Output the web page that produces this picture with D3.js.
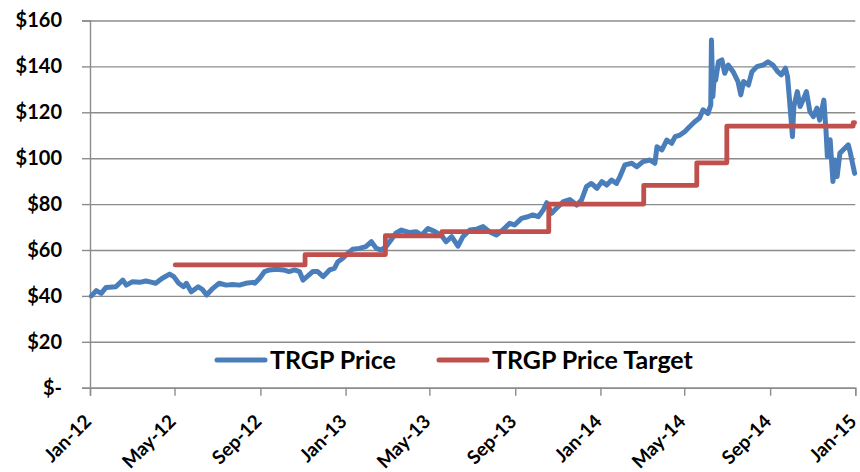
<!DOCTYPE html>
<html>
<head>
<meta charset="utf-8">
<script src="https://cdn.jsdelivr.net/npm/d3@7"></script>
<style>
  html, body { margin: 0; padding: 0; background: #fff; }
  main { width: 860px; height: 472px; }
  svg { display: block; font-family: Lato, "Open Sans", sans-serif; font-weight: bold; }
</style>
</head>
<body>
<main></main>
<script>
const priceDates = [
  "2012-01-03", "2012-01-10", "2012-01-17", "2012-01-24", "2012-02-07", "2012-02-17", "2012-02-22",
  "2012-03-02", "2012-03-12", "2012-03-21", "2012-03-30", "2012-04-04", "2012-04-13", "2012-04-24",
  "2012-04-30", "2012-05-07", "2012-05-14", "2012-05-18", "2012-05-25", "2012-06-04", "2012-06-10",
  "2012-06-16", "2012-06-25", "2012-07-04", "2012-07-14", "2012-07-23", "2012-08-02", "2012-08-11",
  "2012-08-21", "2012-08-24", "2012-08-31", "2012-09-07", "2012-09-14", "2012-09-24", "2012-10-04",
  "2012-10-12", "2012-10-20", "2012-10-27", "2012-11-01", "2012-11-08", "2012-11-15", "2012-11-22",
  "2012-11-30", "2012-12-09", "2012-12-16", "2012-12-21", "2012-12-28", "2013-01-04", "2013-01-11",
  "2013-01-21", "2013-01-30", "2013-02-07", "2013-02-14", "2013-02-21", "2013-02-28", "2013-03-07",
  "2013-03-14", "2013-03-22", "2013-04-03", "2013-04-12", "2013-04-20", "2013-04-29", "2013-05-09",
  "2013-05-18", "2013-05-25", "2013-06-02", "2013-06-11", "2013-06-18", "2013-06-28", "2013-07-07",
  "2013-07-17", "2013-07-26", "2013-08-05", "2013-08-14", "2013-08-24", "2013-08-31", "2013-09-10",
  "2013-09-19", "2013-09-26", "2013-10-04", "2013-10-11", "2013-10-16", "2013-10-23", "2013-10-30",
  "2013-11-09", "2013-11-18", "2013-11-28", "2013-12-05", "2013-12-12", "2013-12-19", "2013-12-27",
  "2014-01-03", "2014-01-10", "2014-01-17", "2014-01-24", "2014-01-29", "2014-02-05", "2014-02-15",
  "2014-02-22", "2014-03-03", "2014-03-13", "2014-03-20", "2014-03-23", "2014-03-30", "2014-04-06",
  "2014-04-13", "2014-04-18", "2014-04-25", "2014-05-02", "2014-05-09", "2014-05-16", "2014-05-23",
  "2014-05-28", "2014-06-04", "2014-06-08", "2014-06-09", "2014-06-11", "2014-06-13", "2014-06-15",
  "2014-06-19", "2014-06-24", "2014-06-28", "2014-07-03", "2014-07-10", "2014-07-17", "2014-07-21",
  "2014-07-25", "2014-08-01", "2014-08-06", "2014-08-13", "2014-08-22", "2014-08-29", "2014-09-05",
  "2014-09-12", "2014-09-17", "2014-09-23", "2014-09-26", "2014-09-29", "2014-10-03", "2014-10-05",
  "2014-10-10", "2014-10-14", "2014-10-18", "2014-10-23", "2014-10-28", "2014-11-02", "2014-11-07",
  "2014-11-11", "2014-11-17", "2014-11-20", "2014-11-22", "2014-11-26", "2014-11-30", "2014-12-03",
  "2014-12-06", "2014-12-10", "2014-12-17", "2014-12-22", "2014-12-25", "2014-12-28", "2014-12-31",
];
const priceValues = [
  40.0, 42.3, 41.1, 43.7, 44.0, 46.9, 44.7,
  46.2, 45.9, 46.5, 45.9, 45.5, 47.6, 49.5,
  48.4, 45.5, 44.0, 45.5, 41.8, 44.0, 42.8,
  40.4, 43.3, 45.5, 44.7, 45.0, 44.7, 45.5,
  45.9, 45.5, 47.7, 50.6, 51.3, 51.6, 51.3,
  50.6, 51.3, 50.6, 46.9, 48.7, 50.6, 50.6,
  48.4, 51.3, 52.0, 54.9, 56.4, 58.5, 60.3,
  60.7, 61.5, 63.6, 60.7, 60.0, 61.5, 64.4,
  67.3, 68.7, 67.6, 68.0, 66.5, 69.4, 68.0,
  66.5, 63.6, 65.8, 61.7, 65.8, 68.7, 69.0,
  70.2, 68.0, 66.5, 68.7, 71.6, 70.9, 73.8,
  74.5, 75.3, 74.5, 77.4, 80.6, 76.0, 78.2,
  81.1, 82.0, 79.6, 81.8, 87.6, 89.0, 86.9,
  89.8, 88.3, 90.5, 89.0, 92.0, 97.1, 97.8,
  96.3, 98.5, 99.2, 97.8, 105.0, 103.6, 107.9,
  106.5, 109.4, 110.1, 111.6, 113.8, 115.9, 117.5,
  121.1, 119.5, 123.2, 151.5, 126.8, 135.5, 134.0,
  142.0, 142.8, 137.0, 140.6, 137.7, 133.4, 127.6,
  133.4, 131.9, 137.7, 139.9, 140.6, 142.0, 140.6,
  137.7, 136.3, 139.2, 135.5, 124.6, 109.4, 122.5,
  129.0, 122.5, 125.3, 129.0, 120.3, 118.1, 121.8,
  116.6, 125.3, 112.3, 100.7, 108.0, 89.8, 99.2,
  92.0, 102.2, 104.3, 105.8, 102.2, 97.8, 93.4,
];

const targetDates = [
  "2012-05-02", "2012-11-04", "2013-02-27", "2013-05-19", "2013-10-19",
  "2014-03-04", "2014-05-19", "2014-07-01", "2014-12-29", "2014-12-31",
];
const targetValues = [53.5, 58.0, 66.2, 68.0, 80.0, 88.2, 98.0, 114.0, 115.5, 115.5];

const yTicks = [0, 20, 40, 60, 80, 100, 120, 140, 160];
const xTicks = [
  "2012-01-01", "2012-05-01", "2012-09-01", "2013-01-01", "2013-05-01",
  "2013-09-01", "2014-01-01", "2014-05-01", "2014-09-01", "2015-01-01",
];
const seriesNames = ["TRGP Price", "TRGP Price Target"];
const colors = ["#4a7ebb", "#c0504d"];

const parse = d3.timeParse("%Y-%m-%d");
const price = priceDates.map((d, i) => ({ date: parse(d), value: priceValues[i] }));
const target = targetDates.map((d, i) => ({ date: parse(d), value: targetValues[i] }));

const width = 860;
const height = 472;
const plot = { left: 90, right: 855.3, top: 20.5, bottom: 387.7 };

const svg = d3
  .select("main")
  .append("svg")
  .attr("width", width)
  .attr("height", height)
  .attr("viewBox", `0 0 ${width} ${height}`);

const x = d3
  .scaleTime()
  .domain([parse(xTicks[0]), parse(xTicks[xTicks.length - 1])])
  .range([plot.left, plot.right]);
const y = d3.scaleLinear().domain([0, 160]).range([plot.bottom, plot.top]);

// gridlines
svg
  .append("g")
  .attr("transform", `translate(${plot.left}, 0)`)
  .call(d3.axisLeft(y).tickValues(yTicks).tickSize(-(plot.right - plot.left)).tickFormat(""))
  .call((g) => g.select(".domain").remove())
  .call((g) => g.selectAll("line").attr("stroke", "#8c8c8c").attr("stroke-width", 1.4));

// y axis
const yAxis = svg
  .append("g")
  .attr("transform", `translate(${plot.left}, 0)`)
  .call(
    d3.axisLeft(y)
      .tickValues(yTicks)
      .tickSize(8)
      .tickPadding(20)
      .tickFormat((d) => (d === 0 ? "$-" : "$" + d))
  );
yAxis.select(".domain").attr("stroke", "#8c8c8c").attr("stroke-width", 1.4);
yAxis.selectAll("line").attr("stroke", "#8c8c8c").attr("stroke-width", 1.4);
yAxis
  .selectAll("text")
  .attr("font-size", 20)
  .attr("font-family", "Lato, sans-serif")
  .attr("font-weight", "bold")
  .attr("fill", "#000");

// x axis, labels turned 45 degrees
const xAxis = svg
  .append("g")
  .attr("transform", `translate(0, ${plot.bottom})`)
  .call(
    d3.axisBottom(x)
      .tickValues(xTicks.map(parse))
      .tickSize(8)
      .tickFormat(d3.timeFormat("%b-%y"))
  );
xAxis.select(".domain").attr("stroke", "#8c8c8c").attr("stroke-width", 1.4);
xAxis.selectAll("line").attr("stroke", "#8c8c8c").attr("stroke-width", 1.4);
xAxis
  .selectAll("text")
  .attr("font-size", 19)
  .attr("font-family", "Lato, sans-serif")
  .attr("font-weight", "bold")
  .attr("fill", "#000")
  .attr("text-anchor", "end")
  .attr("dy", 0)
  .attr("y", 0)
  .attr("transform", "translate(2, 35) rotate(-45)");

// lines
const line = d3
  .line()
  .x((d) => x(d.date))
  .y((d) => y(d.value));

svg
  .append("path")
  .datum(price)
  .attr("fill", "none")
  .attr("stroke", colors[0])
  .attr("stroke-width", 5)
  .attr("stroke-linejoin", "round")
  .attr("stroke-linecap", "round")
  .attr("d", line);

svg
  .append("path")
  .datum(target)
  .attr("fill", "none")
  .attr("stroke", colors[1])
  .attr("stroke-width", 4.8)
  .attr("stroke-linejoin", "round")
  .attr("stroke-linecap", "round")
  .attr("d", line.curve(d3.curveStepAfter));

// legend
const legend = svg.append("g").attr("transform", "translate(217, 360)");
const legendX = [0, 222];
seriesNames.forEach((name, i) => {
  const item = legend.append("g").attr("transform", `translate(${legendX[i]}, 0)`);
  item
    .append("line")
    .attr("x1", 0)
    .attr("x2", 48)
    .attr("stroke", colors[i])
    .attr("stroke-width", 5)
    .attr("stroke-linecap", "round");
  item
    .append("text")
    .attr("x", 53)
    .attr("y", 9)
    .attr("font-size", 25)
    .attr("fill", "#000")
    .text(name);
});
</script>
</body>
</html>
